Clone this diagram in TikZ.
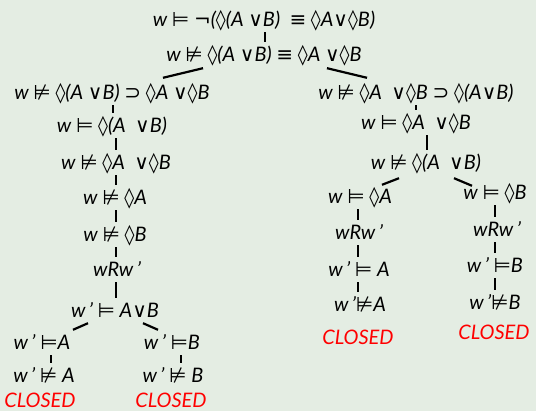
\documentclass[tikz,border=0pt]{standalone}
\usepackage{fontspec}
\setmainfont{Lato}
\newfontfamily\symf{DejaVu Sans}[Scale=1.0]
\definecolor{bg}{HTML}{E4EDE3}
% logic symbols taken from DejaVu Sans
\newcommand\Ent{{\symf ⊨}}
\newcommand\NEnt{{\symf ⊭}}
\newcommand\Dia{{\symf ◊}}
\newcommand\Or{{\symf ∨}}
\newcommand\Eqv{{\symf ≡}}
\newcommand\Imp{{\symf ⊃}}
\newcommand\Neg{{\symf ¬}}
\begin{document}
\begin{tikzpicture}[x=1pt,y=-1pt,
  lbl/.style={font=\fontsize{20}{23}\selectfont\itshape, inner sep=0pt,
    text height=20pt, text depth=5pt, anchor=base},
  closed/.style={lbl, text=red},
  edge/.style={line width=2.2pt}]
\useasboundingbox (0,0) rectangle (536,411);
\fill[bg] (0,0) rectangle (536,411);

% trunk
\node[lbl] (root) at (264,27) {w \Ent{} \Neg(\Dia(A \Or B)\ \ \Eqv{} \Dia A\Or\Dia B)};
\node[lbl] (n2) at (264,62) {w \NEnt{} \Dia(A \Or B) \Eqv{} \Dia A \Or\Dia B};

% left branch
\node[lbl] (l1) at (112,100) {w \NEnt{} \Dia(A \Or B) \Imp{} \Dia A \Or\Dia B};
\node[lbl] (l2) at (112,133) {w \Ent{} \Dia(A \ \Or B)};
\node[lbl] (l3) at (116,170) {w \NEnt{} \Dia A \ \Or\Dia B};
\node[lbl] (l4) at (115,205) {w \NEnt{} \Dia A};
\node[lbl] (l5) at (115,242) {w \NEnt{} \Dia B};
\node[lbl] (l6) at (117,277) {wRw\,'};
\node[lbl] (l7) at (115,318) {w\,' \Ent{} A\Or B};
\node[lbl] (l8a) at (42,350) {w\,' \Ent A};
\node[lbl] (l8b) at (172,350) {w\,' \Ent B};
\node[lbl] (l9a) at (44,383) {w\,' \NEnt{} A};
\node[lbl] (l9b) at (173,383) {w\,' \NEnt{} B};
\node[closed] (c1) at (40,408) {CLOSED};
\node[closed] (c2) at (171,408) {CLOSED};

% right branch
\node[lbl] (r1) at (416,100) {w \NEnt{} \Dia A \ \Or\Dia B \Imp{} \Dia(A\Or B)};
\node[lbl] (r2) at (416,130) {w \Ent{} \Dia A \ \Or\Dia B};
\node[lbl] (r3) at (426,170) {w \NEnt{} \Dia(A \ \Or B)};
\node[lbl] (r4a) at (360,204) {w \Ent{} \Dia A};
\node[lbl] (r4b) at (495,200) {w \Ent{} \Dia B};
\node[lbl] (r5a) at (359,240) {wRw\,'};
\node[lbl] (r5b) at (497,237) {wRw\,'};
\node[lbl] (r6a) at (359,277) {w\,' \Ent{} A};
\node[lbl] (r6b) at (495,273) {w\,' \Ent B};
\node[lbl] (r7a) at (360,312) {w\,'\NEnt A};
\node[lbl] (r7b) at (495,310) {w\,'\NEnt B};
\node[closed] (c3) at (358,345) {CLOSED};
\node[closed] (c4) at (494,340) {CLOSED};

% connectors of the trunk
\draw[edge] ([xshift=1pt]root.south) -- ([xshift=1pt]root.south |- n2.north);
\draw[edge] ([xshift=-61pt,yshift=-1pt]n2.south) -- ([xshift=51pt,yshift=2pt]l1.north);
\draw[edge] ([xshift=63pt,yshift=-1pt]n2.south) -- ([xshift=-49pt,yshift=2pt]r1.north);

% connectors of the left branch
\draw[edge] ([xshift=1pt]l1.south) -- ([xshift=1pt]l1.south |- l2.north);
\draw[edge] ([xshift=4pt]l2.south) -- ([xshift=4pt]l2.south |- l3.north);
\draw[edge] (l3.south) -- (l3.south |- l4.north);
\draw[edge] ([xshift=1pt]l4.south) -- ([xshift=1pt]l4.south |- l5.north);
\draw[edge] ([xshift=1pt]l5.south) -- ([xshift=1pt]l5.south |- l6.north);
\draw[edge] ([xshift=-1pt]l6.south) -- ([xshift=-1pt]l6.south |- l7.north);
\draw[edge] ([xshift=-27pt]l7.south) -- ([xshift=31pt]l8a.north);
\draw[edge] ([xshift=28pt]l7.south) -- ([xshift=-14pt]l8b.north);
\draw[edge] ([xshift=9pt]l8a.south) -- ([xshift=9pt]l8a.south |- l9a.north);
\draw[edge] ([xshift=9pt]l8b.south) -- ([xshift=9pt]l8b.south |- l9b.north);

% connectors of the right branch
\draw[edge] (r1.south) -- (r1.south |- r2.north);
\draw[edge] ([xshift=11pt]r2.south) -- ([xshift=11pt]r2.south |- r3.north);
\draw[edge] ([xshift=-27pt,yshift=-3pt]r3.south) -- ([xshift=22pt,yshift=-1pt]r4a.north);
\draw[edge] ([xshift=28pt,yshift=-3pt]r3.south) -- ([xshift=-23pt,yshift=-6pt]r4b.north);
\draw[edge] ([xshift=-2pt]r4a.south) -- ([xshift=-2pt]r4a.south |- r5a.north);
\draw[edge] ([xshift=-1pt]r5a.south) -- ([xshift=-1pt]r5a.south |- r6a.north);
\draw[edge] ([xshift=-1pt]r6a.south) -- ([xshift=-1pt]r6a.south |- r7a.north);
\draw[edge] (r4b.south) -- (r4b.south |- r5b.north);
\draw[edge] ([xshift=-2pt]r5b.south) -- ([xshift=-2pt]r5b.south |- r6b.north);
\draw[edge] (r6b.south) -- (r6b.south |- r7b.north);
\end{tikzpicture}
\end{document}
